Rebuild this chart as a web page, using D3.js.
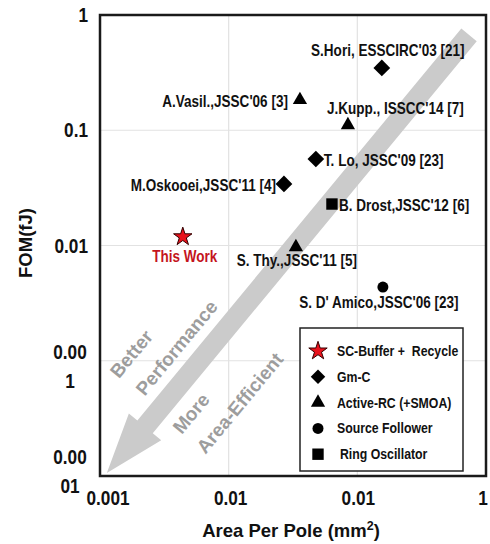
<!DOCTYPE html>
<html>
<head>
<meta charset="utf-8">
<script src="https://cdn.jsdelivr.net/npm/d3@7"></script>
<style>
body { margin: 0; background: #fff; }
text { font-family: 'Liberation Sans', Arial, sans-serif; font-weight: bold; }
</style>
</head>
<body>
<div id="chart"></div>
<script>
// Data points
const names = ["This Work", "S.Hori, ESSCIRC'03 [21]", "A.Vasil.,JSSC'06 [3]", "J.Kupp., ISSCC'14 [7]",
    "T. Lo, JSSC'09 [23]", "M.Oskooei,JSSC'11 [4]", "B. Drost,JSSC'12 [6]", "S. Thy.,JSSC'11 [5]",
    "S. D' Amico,JSSC'06 [23]"];
const types = ["SC-Buffer +  Recycle", "Gm-C", "Active-RC (+SMOA)", "Active-RC (+SMOA)",
    "Gm-C", "Gm-C", "Ring Oscillator", "Active-RC (+SMOA)", "Source Follower"];
const area = [0.0044, 0.155, 0.0358, 0.0845, 0.0476, 0.0269, 0.0635, 0.0333, 0.158];
const fom = [0.0119, 0.347, 0.183, 0.111, 0.0563, 0.0342, 0.0229, 0.0097, 0.00436];

const legendTypes = ["SC-Buffer +  Recycle", "Gm-C", "Active-RC (+SMOA)", "Source Follower", "Ring Oscillator"];

// Ticks
const xTickVals = [0.001, 0.01, 0.1, 1];
const xTickLabels = ["0.001", "0.01", "0.01", "1"];
const yTickVals = [1, 0.1, 0.01, 0.001, 0.0001];
const yTickLabels = [["1"], ["0.1"], ["0.01"], ["0.00", "1"], ["0.00", "01"]];

// Trend arrow (data coords) and its captions
const arrowTip = [0.00113, 0.000106];
const arrowTail = [0.738, 0.671];
const arrowCaptions = ["Better", "Performance", "More", "Area-Efficient"];

// label placement: dx, dy, anchor
const labelPos = [
    [2, 25, "middle"], [6, -12, "middle"], [-12, 7, "end"], [-21, -11, "start"],
    [8, 7, "start"], [-8, 7, "end"], [7, 7, "start"], [1, 19, "middle"], [-4, 21, "middle"]
];

const W = 490, H = 544;
const margin = { top: 15, right: 4, bottom: 68, left: 100 };
const NARROW = 0.82;   // no Arial Narrow installed, squeeze Liberation Sans instead

const svg = d3.select("#chart").append("svg")
    .attr("width", W)
    .attr("height", H);

const x = d3.scaleLog().domain([0.001, 1]).range([margin.left, W - margin.right]);
const y = d3.scaleLog().domain([0.0001, 1]).range([H - margin.bottom, margin.top]);

// condensed text helper
function narrowText(parent, tx, ty, str, anchor, size, fill) {
    return parent.append("text")
        .attr("transform", `translate(${tx},${ty}) scale(${NARROW},1)`)
        .attr("text-anchor", anchor)
        .style("font-size", size + "px")
        .style("fill", fill || "#111")
        .style("white-space", "pre")
        .text(str);
}

// grid
svg.append("g")
    .selectAll("line")
    .data(xTickVals.slice(1, -1))
    .enter().append("line")
    .attr("x1", d => x(d)).attr("x2", d => x(d))
    .attr("y1", margin.top).attr("y2", H - margin.bottom)
    .style("stroke", "#e2e2e2").style("stroke-width", 1.2);

svg.append("g")
    .selectAll("line")
    .data(yTickVals.slice(1, -1))
    .enter().append("line")
    .attr("x1", margin.left).attr("x2", W - margin.right)
    .attr("y1", d => y(d)).attr("y2", d => y(d))
    .style("stroke", "#e2e2e2").style("stroke-width", 1.2);

// arrow
const p0 = [x(arrowTip[0]), y(arrowTip[1])];
const p1 = [x(arrowTail[0]), y(arrowTail[1])];
const L = Math.hypot(p1[0] - p0[0], p1[1] - p0[1]);
const ang = Math.atan2(p1[1] - p0[1], p1[0] - p0[0]) * 180 / Math.PI;
const headLen = 60, headHalf = 21, bandHalf = 10;

const arrowG = svg.append("g")
    .attr("transform", `translate(${p0[0]},${p0[1]}) rotate(${ang})`);

arrowG.append("path")
    .attr("d", d3.line()([[0, 0], [headLen, -headHalf], [headLen, -bandHalf], [L, -bandHalf],
        [L, bandHalf], [headLen, bandHalf], [headLen, headHalf]]) + "Z")
    .style("fill", "#cbcbcb");

const capOffsets = [[80, -57], [83, -26], [77, 27], [77, 58]];
arrowG.selectAll("text")
    .data(arrowCaptions)
    .enter().append("text")
    .attr("x", (d, i) => capOffsets[i][0])
    .attr("y", (d, i) => capOffsets[i][1])
    .attr("dominant-baseline", "central")
    .style("font-size", "19px")
    .style("fill", "#9d9d9d")
    .text(d => d);

// markers
const markerStyle = {
    "SC-Buffer +  Recycle": { sym: d3.symbolStar, size: 105, rot: 0, fill: "#e8121c", stroke: "#300" },
    "Gm-C": { sym: d3.symbolSquare, size: 140, rot: 45, fill: "#000" },
    "Active-RC (+SMOA)": { sym: d3.symbolTriangle, size: 88, rot: 0, fill: "#000" },
    "Source Follower": { sym: d3.symbolCircle, size: 95, rot: 0, fill: "#000" },
    "Ring Oscillator": { sym: d3.symbolSquare, size: 130, rot: 0, fill: "#000" }
};

function drawMarker(g, type, scale) {
    const m = markerStyle[type];
    g.append("path")
        .attr("d", d3.symbol(m.sym, m.size * (scale || 1))())
        .attr("transform", `rotate(${m.rot})`)
        .style("fill", m.fill)
        .style("stroke", m.stroke || "none")
        .style("stroke-width", 1);
}

const pts = svg.append("g")
    .selectAll("g")
    .data(names)
    .enter().append("g")
    .attr("transform", (d, i) => `translate(${x(area[i])},${y(fom[i])})`);

pts.each(function (d, i) {
    const g = d3.select(this);
    drawMarker(g, types[i]);
    narrowText(g, labelPos[i][0], labelPos[i][1], d, labelPos[i][2], 16.5, i === 0 ? "#c4141c" : "#111");
});

// frame
svg.append("rect")
    .attr("x", margin.left)
    .attr("y", margin.top)
    .attr("width", W - margin.left - margin.right)
    .attr("height", H - margin.top - margin.bottom)
    .style("fill", "none")
    .style("stroke", "#1a1a1a")
    .style("stroke-width", 2.5);

// x axis labels
const xShift = [8, 2, 1, -3];
const xAxis = svg.append("g");
xTickVals.forEach((v, i) => {
    narrowText(xAxis, x(v) + xShift[i], H - margin.bottom + 29, xTickLabels[i], "middle", 21);
});

// y axis labels
const yShift = [0, 0, 0, 6, -5];
const yAxis = svg.append("g");
yTickVals.forEach((v, i) => {
    const lines = yTickLabels[i];
    if (lines.length === 1) {
        narrowText(yAxis, 88, y(v), lines[0], "end", 21).attr("dominant-baseline", "central");
    } else {
        lines.forEach((s, j) => {
            narrowText(yAxis, 70, y(v) + yShift[i] + (j - 0.5) * 29, s, "middle", 21)
                .attr("dominant-baseline", "central");
        });
    }
});

// axis titles
const xTitle = svg.append("text")
    .attr("x", 291)
    .attr("y", 537)
    .attr("text-anchor", "middle")
    .style("font-size", "18.5px")
    .style("fill", "#111");
xTitle.append("tspan").text("Area Per Pole (mm");
xTitle.append("tspan").attr("dy", -7).style("font-size", "12.5px").text("2");
xTitle.append("tspan").attr("dy", 7).text(")");

svg.append("text")
    .attr("transform", `translate(25,243) rotate(-90)`)
    .attr("text-anchor", "middle")
    .attr("dominant-baseline", "central")
    .style("font-size", "18.5px")
    .style("fill", "#111")
    .text("FOM(fJ)");

// legend
const legend = svg.append("g");
legend.append("rect")
    .attr("x", 300).attr("y", 328)
    .attr("width", 163).attr("height", 143)
    .style("fill", "#fff")
    .style("stroke", "#222")
    .style("stroke-width", 1.5);

legendTypes.forEach((t, i) => {
    const g = legend.append("g")
        .attr("transform", `translate(318,${351 + i * 25.8})`);
    drawMarker(g, t, t === "Gm-C" ? 0.75 : 1);
    narrowText(g, i === 4 ? 22 : 19, 0, t, "start", 15).attr("dominant-baseline", "central");
});
</script>
</body>
</html>
